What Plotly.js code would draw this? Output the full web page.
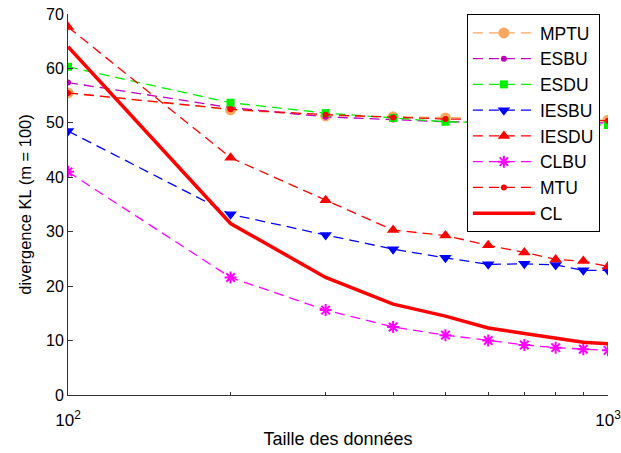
<!DOCTYPE html>
<html>
<head>
<meta charset="utf-8">
<script src="https://cdn.plot.ly/plotly-3.0.1.min.js"></script>
<style>html,body{margin:0;padding:0;background:#fff;}#chart{width:621px;height:453px;}</style>
</head>
<body>
<div id="chart"></div>
<script>
// Data
const xFull = [100, 200, 300, 400, 500, 600, 700, 800, 900, 1000];
const xTop  = [100, 200, 300, 400, 500, 1000];

const mptu  = [55.5, 52.4, 51.3, 51.1, 50.9, 50.5];
const esbu  = [57.4, 52.8, 51.1, 50.6, 50.2, 50.0];
const esdu  = [60.3, 53.7, 51.8, 50.9, 50.2, 49.6];
const mtu   = [55.5, 52.5, 51.5, 51.0, 50.7, 50.4];
const iesbu = [48.5, 33.2, 29.4, 26.8, 25.2, 24.0, 24.1, 23.9, 22.9, 22.9];
const iesdu = [67.6, 43.6, 35.8, 30.3, 29.3, 27.5, 26.2, 24.9, 24.6, 23.6];
const clbu  = [41.0, 21.6, 15.6, 12.5, 11.0, 10.0, 9.2, 8.7, 8.4, 8.2];
const cl    = [64.0, 31.5, 21.6, 16.7, 14.5, 12.3, 11.3, 10.5, 9.7, 9.4];

const names = ['MPTU','ESBU','ESDU','IESBU','IESDU','CLBU','MTU','CL'];
const xTickVals = [100, 1000];
const xTickText = ['10<sup>2</sup>', '10<sup>3</sup>'];

const dashed = '10px,6px';
function tr(name, x, y, color, symbol, size) {
  return {
    type: 'scatter', mode: 'lines+markers', name: name, x: x, y: y,
    line: {color: color, width: 1.3, dash: dashed},
    marker: {color: color, symbol: symbol, size: size}
  };
}

const traces = [
  tr(names[0], xTop, mptu, 'rgb(248,168,96)', 'circle', 11),
  tr(names[1], xTop, esbu, 'rgb(190,0,190)', 'circle', 6),
  tr(names[2], xTop, esdu, 'rgb(0,240,0)', 'square', 8),
  tr(names[3], xFull, iesbu, 'rgb(0,0,255)', 'triangle-down', 11),
  tr(names[4], xFull, iesdu, 'rgb(255,0,0)', 'triangle-up', 11),
  tr(names[5], xFull, clbu, 'rgb(255,0,255)', 'asterisk-open', 10),
  tr(names[6], xTop, mtu, 'rgb(255,0,0)', 'circle', 6),
  {type: 'scatter', mode: 'lines', name: names[7], x: xFull, y: cl,
   line: {color: 'rgb(255,0,0)', width: 3.5}}
];
traces[5].marker.line = {color: 'rgb(255,0,255)', width: 2};

const font = {family: 'Liberation Sans, Arial, Helvetica, sans-serif', color: '#000'};

const layout = {
  width: 621, height: 453,
  margin: {l: 68, r: 13, t: 14, b: 58},
  paper_bgcolor: '#fff', plot_bgcolor: '#fff',
  font: Object.assign({size: 16}, font),
  showlegend: true,
  legend: {
    x: 0.985, xanchor: 'right', y: 1, yanchor: 'top',
    bgcolor: '#fff', bordercolor: '#000', borderwidth: 1,
    font: Object.assign({size: 17.5}, font),
    itemwidth: 62, tracegroupgap: 0
  },
  xaxis: {
    type: 'log', range: [2, 3],
    tickvals: xTickVals, ticktext: xTickText,
    ticks: 'inside', ticklen: 5, tickcolor: '#333',
    ticklabelstandoff: 10, ticklabeloverflow: 'allow',
    showline: true, linecolor: '#333', linewidth: 1, mirror: false,
    showgrid: false, zeroline: false,
    minor: {tickvals: [200,300,400,500,600,700,800,900], ticks: 'inside', ticklen: 3, tickcolor: '#333'},
    tickfont: Object.assign({size: 17}, font),
    title: {text: 'Taille des données', font: Object.assign({size: 18}, font), standoff: 2}
  },
  yaxis: {
    range: [0, 70], dtick: 10,
    ticks: 'inside', ticklen: 5, tickcolor: '#333',
    showline: true, linecolor: '#333', linewidth: 1,
    showgrid: false, zeroline: false,
    tickfont: Object.assign({size: 16}, font),
    title: {text: 'divergence KL (m = 100)', font: Object.assign({size: 16.5}, font), standoff: 10}
  }
};

Plotly.newPlot('chart', traces, layout, {displayModeBar: false, staticPlot: true});
</script>
</body>
</html>
